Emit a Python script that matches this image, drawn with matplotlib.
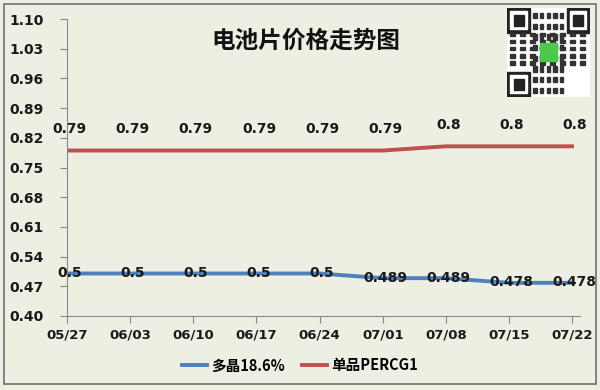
import matplotlib
matplotlib.use("Agg")
import matplotlib.pyplot as plt
import matplotlib.patches as mpatches

plt.rcParams["font.family"] = ["Noto Sans CJK SC", "DejaVu Sans"]

dates = ["05/27", "06/03", "06/10", "06/17", "06/24", "07/01", "07/08", "07/15", "07/22"]
poly = [0.5, 0.5, 0.5, 0.5, 0.5, 0.489, 0.489, 0.478, 0.478]
mono = [0.79, 0.79, 0.79, 0.79, 0.79, 0.79, 0.8, 0.8, 0.8]
poly_labels = ["0.5", "0.5", "0.5", "0.5", "0.5", "0.489", "0.489", "0.478", "0.478"]
mono_labels = ["0.79", "0.79", "0.79", "0.79", "0.79", "0.79", "0.8", "0.8", "0.8"]
yticks = [0.40, 0.47, 0.54, 0.61, 0.68, 0.75, 0.82, 0.89, 0.96, 1.03, 1.10]

BG = "#eeefe3"
BLUE = "#4f81bd"
RED = "#c0504d"
TXT = "#1a1a1a"
NUM = dict(family="DejaVu Sans", fontweight="bold", color=TXT)

fig = plt.figure(figsize=(6, 3.9), dpi=100)
fig.patch.set_facecolor(BG)
fig.patches.append(mpatches.Rectangle((0.007, 0.015), 0.986, 0.975, transform=fig.transFigure,
                                      fill=False, edgecolor="#707070", lw=1.2))

# QR-code placeholder, top right
qr = fig.add_axes([0.845, 0.752, 0.138, 0.228])
qr.set_facecolor("white")
qr.set_xticks([]); qr.set_yticks([])
for sp in qr.spines.values():
    sp.set_visible(False)
qr.set_xlim(0, 25); qr.set_ylim(0, 25)
for (px, py) in [(0, 18), (18, 18), (0, 0)]:
    qr.add_patch(mpatches.Rectangle((px, py), 7, 7, color="#222222"))
    qr.add_patch(mpatches.Rectangle((px + 1, py + 1), 5, 5, color="white"))
    qr.add_patch(mpatches.Rectangle((px + 2, py + 2), 3, 3, color="#222222"))
for i in range(8, 17, 2):
    for j in range(1, 24, 3):
        qr.add_patch(mpatches.Rectangle((i, j), 1, 1.5, color="#333333"))
        qr.add_patch(mpatches.Rectangle((j, i + 1), 1.5, 1, color="#333333"))
qr.add_patch(mpatches.Rectangle((10, 10), 5, 5, color="#4cc84a"))

ax = fig.add_axes([0.112, 0.19, 0.855, 0.761])
ax.set_facecolor("none")

x = list(range(len(dates)))
l1, = ax.plot(x, poly, color=BLUE, lw=2.8, label="多晶18.6%")
l2, = ax.plot(x, mono, color=RED, lw=2.8, label="单品PERCG1")

for xi, v, s in zip(x, poly, poly_labels):
    ax.text(xi + 0.04, v + 0.001, s, ha="center", va="center", fontsize=10, **NUM)
for xi, v, s in zip(x, mono, mono_labels):
    ax.text(xi + 0.04, v + 0.05, s, ha="center", va="center", fontsize=10, **NUM)

ax.set_xlim(0, 8.13)
ax.set_ylim(0.40, 1.10)
ax.set_xticks(x)
ax.set_xticklabels(dates, fontsize=9.5, **NUM)
ax.set_yticks(yticks)
ax.set_yticklabels([f"{t:.2f}" for t in yticks], fontsize=10, **NUM)
ax.tick_params(axis="y", direction="out", length=5, color="#888888", pad=12)
ax.tick_params(axis="x", direction="out", length=5, color="#888888", pad=4)
for side in ["top", "right"]:
    ax.spines[side].set_visible(False)
for side in ["left", "bottom"]:
    ax.spines[side].set_color("#888888")

fig.text(0.51, 0.895, "电池片价格走势图", ha="center", va="center", fontsize=17, fontweight="bold", color="#111111")

fig.legend(handles=[l1, l2], loc="center", bbox_to_anchor=(0.5, 0.063), ncol=2, frameon=False,
           handlelength=1.7, handletextpad=0.3, columnspacing=1.2,
           prop={"weight": "bold", "size": 10.5})

fig.savefig("out.png", dpi=100, facecolor=BG)
